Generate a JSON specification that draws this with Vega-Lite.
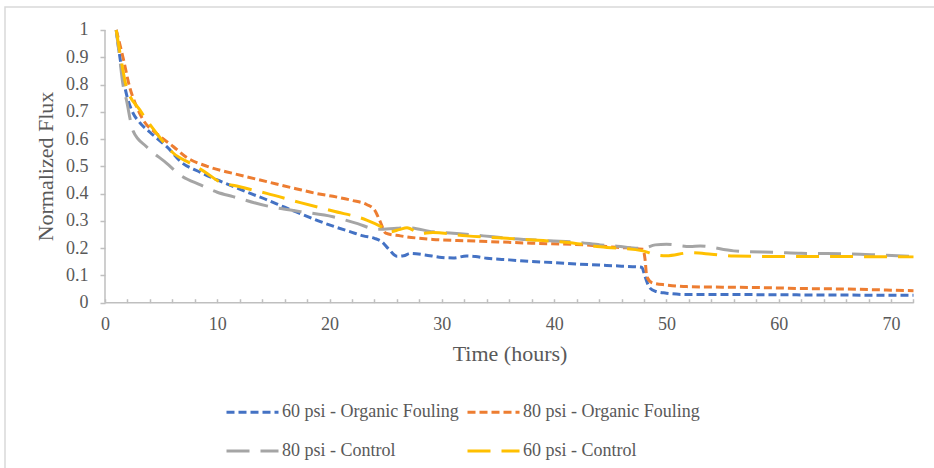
{
  "$schema": "https://vega.github.io/schema/vega-lite/v6.json",
  "autosize": {"type": "none"},
  "padding": {"left": 5, "top": 7, "right": 0, "bottom": 0},
  "width": 929,
  "height": 461,
  "background": "white",
  "config": {
    "view": {"stroke": "#d9d9d9", "strokeWidth": 1.5, "strokeDash": [929, 1390, 461]},
    "font": "Liberation Serif",
    "axis": {
      "grid": false,
      "domain": false,
      "labelOverlap": false,
      "labelFont": "Liberation Serif",
      "labelFontSize": 18,
      "labelColor": "#595959",
      "titleFont": "Liberation Serif",
      "titleFontSize": 22,
      "titleFontWeight": "normal",
      "titleColor": "#595959",
      "tickColor": "#bfbfbf",
      "tickWidth": 1.5
    },
    "legend": {
      "labelFont": "Liberation Serif",
      "labelFontSize": 18,
      "labelColor": "#595959",
      "labelLimit": 0
    }
  },
  "datasets": {
    "flux": [
      {"series": "60 psi - Organic Fouling", "t": 1, "flux": 1},
      {"series": "60 psi - Organic Fouling", "t": 1.4, "flux": 0.88},
      {"series": "60 psi - Organic Fouling", "t": 1.8, "flux": 0.785},
      {"series": "60 psi - Organic Fouling", "t": 2.5, "flux": 0.695},
      {"series": "60 psi - Organic Fouling", "t": 3, "flux": 0.665},
      {"series": "60 psi - Organic Fouling", "t": 4, "flux": 0.625},
      {"series": "60 psi - Organic Fouling", "t": 5, "flux": 0.59},
      {"series": "60 psi - Organic Fouling", "t": 5.5, "flux": 0.572},
      {"series": "60 psi - Organic Fouling", "t": 6.8, "flux": 0.515},
      {"series": "60 psi - Organic Fouling", "t": 8.5, "flux": 0.478},
      {"series": "60 psi - Organic Fouling", "t": 10, "flux": 0.45},
      {"series": "60 psi - Organic Fouling", "t": 11.5, "flux": 0.425},
      {"series": "60 psi - Organic Fouling", "t": 13, "flux": 0.4},
      {"series": "60 psi - Organic Fouling", "t": 14.5, "flux": 0.376},
      {"series": "60 psi - Organic Fouling", "t": 16, "flux": 0.35},
      {"series": "60 psi - Organic Fouling", "t": 17.5, "flux": 0.325},
      {"series": "60 psi - Organic Fouling", "t": 19, "flux": 0.3},
      {"series": "60 psi - Organic Fouling", "t": 20.5, "flux": 0.278},
      {"series": "60 psi - Organic Fouling", "t": 22, "flux": 0.258},
      {"series": "60 psi - Organic Fouling", "t": 23, "flux": 0.245},
      {"series": "60 psi - Organic Fouling", "t": 24, "flux": 0.236},
      {"series": "60 psi - Organic Fouling", "t": 24.6, "flux": 0.225},
      {"series": "60 psi - Organic Fouling", "t": 25.3, "flux": 0.195},
      {"series": "60 psi - Organic Fouling", "t": 26, "flux": 0.17},
      {"series": "60 psi - Organic Fouling", "t": 26.6, "flux": 0.172},
      {"series": "60 psi - Organic Fouling", "t": 27.2, "flux": 0.181},
      {"series": "60 psi - Organic Fouling", "t": 28.5, "flux": 0.175},
      {"series": "60 psi - Organic Fouling", "t": 30, "flux": 0.166},
      {"series": "60 psi - Organic Fouling", "t": 31, "flux": 0.164},
      {"series": "60 psi - Organic Fouling", "t": 32.2, "flux": 0.171},
      {"series": "60 psi - Organic Fouling", "t": 33, "flux": 0.169},
      {"series": "60 psi - Organic Fouling", "t": 34, "flux": 0.163},
      {"series": "60 psi - Organic Fouling", "t": 36, "flux": 0.157},
      {"series": "60 psi - Organic Fouling", "t": 38, "flux": 0.151},
      {"series": "60 psi - Organic Fouling", "t": 40, "flux": 0.147},
      {"series": "60 psi - Organic Fouling", "t": 42, "flux": 0.142},
      {"series": "60 psi - Organic Fouling", "t": 44, "flux": 0.138},
      {"series": "60 psi - Organic Fouling", "t": 46, "flux": 0.134},
      {"series": "60 psi - Organic Fouling", "t": 47.8, "flux": 0.13},
      {"series": "60 psi - Organic Fouling", "t": 48.1, "flux": 0.095},
      {"series": "60 psi - Organic Fouling", "t": 48.5, "flux": 0.055},
      {"series": "60 psi - Organic Fouling", "t": 49, "flux": 0.042},
      {"series": "60 psi - Organic Fouling", "t": 50, "flux": 0.035},
      {"series": "60 psi - Organic Fouling", "t": 51.8, "flux": 0.03},
      {"series": "60 psi - Organic Fouling", "t": 55, "flux": 0.03},
      {"series": "60 psi - Organic Fouling", "t": 60, "flux": 0.029},
      {"series": "60 psi - Organic Fouling", "t": 65, "flux": 0.028},
      {"series": "60 psi - Organic Fouling", "t": 72, "flux": 0.027},

      {"series": "80 psi - Organic Fouling", "t": 1, "flux": 1},
      {"series": "80 psi - Organic Fouling", "t": 1.6, "flux": 0.9},
      {"series": "80 psi - Organic Fouling", "t": 2.2, "flux": 0.79},
      {"series": "80 psi - Organic Fouling", "t": 2.8, "flux": 0.72},
      {"series": "80 psi - Organic Fouling", "t": 3.4, "flux": 0.67},
      {"series": "80 psi - Organic Fouling", "t": 4.6, "flux": 0.62},
      {"series": "80 psi - Organic Fouling", "t": 6.1, "flux": 0.572},
      {"series": "80 psi - Organic Fouling", "t": 7.3, "flux": 0.532},
      {"series": "80 psi - Organic Fouling", "t": 9.1, "flux": 0.5},
      {"series": "80 psi - Organic Fouling", "t": 11.4, "flux": 0.474},
      {"series": "80 psi - Organic Fouling", "t": 14.4, "flux": 0.444},
      {"series": "80 psi - Organic Fouling", "t": 17, "flux": 0.418},
      {"series": "80 psi - Organic Fouling", "t": 18.9, "flux": 0.4},
      {"series": "80 psi - Organic Fouling", "t": 20.3, "flux": 0.39},
      {"series": "80 psi - Organic Fouling", "t": 22, "flux": 0.375},
      {"series": "80 psi - Organic Fouling", "t": 23.3, "flux": 0.36},
      {"series": "80 psi - Organic Fouling", "t": 24, "flux": 0.34},
      {"series": "80 psi - Organic Fouling", "t": 24.5, "flux": 0.298},
      {"series": "80 psi - Organic Fouling", "t": 25, "flux": 0.255},
      {"series": "80 psi - Organic Fouling", "t": 26.3, "flux": 0.245},
      {"series": "80 psi - Organic Fouling", "t": 29.2, "flux": 0.232},
      {"series": "80 psi - Organic Fouling", "t": 32.2, "flux": 0.227},
      {"series": "80 psi - Organic Fouling", "t": 35, "flux": 0.223},
      {"series": "80 psi - Organic Fouling", "t": 38, "flux": 0.218},
      {"series": "80 psi - Organic Fouling", "t": 42.6, "flux": 0.212},
      {"series": "80 psi - Organic Fouling", "t": 45.6, "flux": 0.203},
      {"series": "80 psi - Organic Fouling", "t": 47.9, "flux": 0.196},
      {"series": "80 psi - Organic Fouling", "t": 48.1, "flux": 0.157},
      {"series": "80 psi - Organic Fouling", "t": 48.25, "flux": 0.095},
      {"series": "80 psi - Organic Fouling", "t": 48.8, "flux": 0.072},
      {"series": "80 psi - Organic Fouling", "t": 50, "flux": 0.065},
      {"series": "80 psi - Organic Fouling", "t": 51.8, "flux": 0.059},
      {"series": "80 psi - Organic Fouling", "t": 55, "flux": 0.057},
      {"series": "80 psi - Organic Fouling", "t": 58.9, "flux": 0.055},
      {"series": "80 psi - Organic Fouling", "t": 62, "flux": 0.052},
      {"series": "80 psi - Organic Fouling", "t": 66, "flux": 0.05},
      {"series": "80 psi - Organic Fouling", "t": 70, "flux": 0.046},
      {"series": "80 psi - Organic Fouling", "t": 72, "flux": 0.044},

      {"series": "80 psi - Control", "t": 1, "flux": 1},
      {"series": "80 psi - Control", "t": 1.3, "flux": 0.9},
      {"series": "80 psi - Control", "t": 1.6, "flux": 0.8},
      {"series": "80 psi - Control", "t": 1.9, "flux": 0.745},
      {"series": "80 psi - Control", "t": 2.5, "flux": 0.63},
      {"series": "80 psi - Control", "t": 3.7, "flux": 0.572},
      {"series": "80 psi - Control", "t": 5.5, "flux": 0.511},
      {"series": "80 psi - Control", "t": 6.7, "flux": 0.468},
      {"series": "80 psi - Control", "t": 8.5, "flux": 0.432},
      {"series": "80 psi - Control", "t": 10, "flux": 0.405},
      {"series": "80 psi - Control", "t": 11.4, "flux": 0.389},
      {"series": "80 psi - Control", "t": 14.4, "flux": 0.355},
      {"series": "80 psi - Control", "t": 17.4, "flux": 0.334},
      {"series": "80 psi - Control", "t": 20.3, "flux": 0.315},
      {"series": "80 psi - Control", "t": 22.5, "flux": 0.29},
      {"series": "80 psi - Control", "t": 24.2, "flux": 0.269},
      {"series": "80 psi - Control", "t": 26, "flux": 0.273},
      {"series": "80 psi - Control", "t": 27, "flux": 0.275},
      {"series": "80 psi - Control", "t": 29.2, "flux": 0.26},
      {"series": "80 psi - Control", "t": 31, "flux": 0.255},
      {"series": "80 psi - Control", "t": 33.7, "flux": 0.245},
      {"series": "80 psi - Control", "t": 36, "flux": 0.236},
      {"series": "80 psi - Control", "t": 39.6, "flux": 0.227},
      {"series": "80 psi - Control", "t": 42, "flux": 0.222},
      {"series": "80 psi - Control", "t": 44.1, "flux": 0.212},
      {"series": "80 psi - Control", "t": 45.6, "flux": 0.207},
      {"series": "80 psi - Control", "t": 47.9, "flux": 0.199},
      {"series": "80 psi - Control", "t": 49, "flux": 0.212},
      {"series": "80 psi - Control", "t": 50, "flux": 0.214},
      {"series": "80 psi - Control", "t": 52.1, "flux": 0.206},
      {"series": "80 psi - Control", "t": 53, "flux": 0.208},
      {"series": "80 psi - Control", "t": 56, "flux": 0.19},
      {"series": "80 psi - Control", "t": 60, "flux": 0.184},
      {"series": "80 psi - Control", "t": 62, "flux": 0.181},
      {"series": "80 psi - Control", "t": 66.3, "flux": 0.179},
      {"series": "80 psi - Control", "t": 69, "flux": 0.175},
      {"series": "80 psi - Control", "t": 72, "flux": 0.17},

      {"series": "60 psi - Control", "t": 1, "flux": 1},
      {"series": "60 psi - Control", "t": 1.4, "flux": 0.9},
      {"series": "60 psi - Control", "t": 1.9, "flux": 0.792},
      {"series": "60 psi - Control", "t": 3.1, "flux": 0.707},
      {"series": "60 psi - Control", "t": 4.6, "flux": 0.621},
      {"series": "60 psi - Control", "t": 6.1, "flux": 0.548},
      {"series": "60 psi - Control", "t": 7.6, "flux": 0.511},
      {"series": "60 psi - Control", "t": 9.1, "flux": 0.474},
      {"series": "60 psi - Control", "t": 10, "flux": 0.448},
      {"series": "60 psi - Control", "t": 12, "flux": 0.425},
      {"series": "60 psi - Control", "t": 14.4, "flux": 0.401},
      {"series": "60 psi - Control", "t": 17.4, "flux": 0.367},
      {"series": "60 psi - Control", "t": 20.3, "flux": 0.336},
      {"series": "60 psi - Control", "t": 23.3, "flux": 0.303},
      {"series": "60 psi - Control", "t": 24.5, "flux": 0.281},
      {"series": "60 psi - Control", "t": 25.4, "flux": 0.26},
      {"series": "60 psi - Control", "t": 26.2, "flux": 0.268},
      {"series": "60 psi - Control", "t": 26.9, "flux": 0.275},
      {"series": "60 psi - Control", "t": 28.1, "flux": 0.254},
      {"series": "60 psi - Control", "t": 29.2, "flux": 0.257},
      {"series": "60 psi - Control", "t": 32.2, "flux": 0.245},
      {"series": "60 psi - Control", "t": 35, "flux": 0.238},
      {"series": "60 psi - Control", "t": 38.1, "flux": 0.23},
      {"series": "60 psi - Control", "t": 41, "flux": 0.222},
      {"series": "60 psi - Control", "t": 44.1, "flux": 0.205},
      {"series": "60 psi - Control", "t": 47.9, "flux": 0.19},
      {"series": "60 psi - Control", "t": 49.1, "flux": 0.175},
      {"series": "60 psi - Control", "t": 50, "flux": 0.172},
      {"series": "60 psi - Control", "t": 52.1, "flux": 0.183},
      {"series": "60 psi - Control", "t": 54, "flux": 0.178},
      {"series": "60 psi - Control", "t": 56, "flux": 0.171},
      {"series": "60 psi - Control", "t": 61.9, "flux": 0.169},
      {"series": "60 psi - Control", "t": 66, "flux": 0.169},
      {"series": "60 psi - Control", "t": 72, "flux": 0.168}
    ]
  },
  "layer": [
    {
      "data": {"name": "flux"},
      "mark": {"type": "line", "strokeWidth": 3, "interpolate": "monotone"},
      "encoding": {
        "x": {
          "field": "t",
          "type": "quantitative",
          "title": "Time (hours)",
          "scale": {"domain": [-8.905, 73.826], "nice": false, "zero": false},
          "axis": {
            "orient": "bottom",
            "offset": -165.3,
            "values": [0, 2, 4, 6, 8, 10, 12, 14, 16, 18, 20, 22, 24, 26, 28, 30, 32, 34, 36, 38, 40, 42, 44, 46, 48, 50, 52, 54, 56, 58, 60, 62, 64, 66, 68, 70, 72],
            "labelExpr": "datum.value % 10 === 0 ? datum.label : ''",
            "labelOverlap": false,
            "tickSize": -4,
            "labelPadding": 17,
            "titleX": 504.5,
            "titlePadding": 10
          }
        },
        "y": {
          "field": "flux",
          "type": "quantitative",
          "title": "Normalized Flux",
          "scale": {"domain": [-0.6062, 1.0843], "nice": false, "zero": false},
          "axis": {
            "orient": "left",
            "offset": -100,
            "values": [0, 0.1, 0.2, 0.3, 0.4, 0.5, 0.6, 0.7, 0.8, 0.9, 1],
            "format": "~g",
            "labelOverlap": false,
            "tickSize": 5,
            "labelPadding": 12,
            "titleY": 159,
            "titlePadding": 8
          }
        },
        "color": {
          "field": "series",
          "type": "nominal",
          "scale": {
            "domain": ["60 psi - Organic Fouling", "80 psi - Organic Fouling", "80 psi - Control", "60 psi - Control"],
            "range": ["#4472C4", "#ED7D31", "#A5A5A5", "#FFC000"]
          },
          "legend": {
            "title": null,
            "orient": "none",
            "direction": "horizontal",
            "legendX": 220,
            "legendY": 377.5,
            "columns": 2,
            "columnPadding": 2,
            "padding": 0,
            "symbolType": "stroke",
            "symbolSize": 2704,
            "symbolStrokeWidth": 3,
            "labelOffset": 2,
            "labelLimit": 0,
            "labelFont": "Liberation Serif",
            "labelFontSize": 18,
            "labelColor": "#595959"
          }
        },
        "strokeDash": {
          "field": "series",
          "type": "nominal",
          "scale": {
            "domain": ["60 psi - Organic Fouling", "80 psi - Organic Fouling", "80 psi - Control", "60 psi - Control"],
            "range": [[8, 4], [8, 4], [23, 11], [23, 11]]
          },
          "legend": {
            "title": null,
            "orient": "none",
            "direction": "horizontal",
            "legendX": 220,
            "legendY": 377.5,
            "columns": 2,
            "columnPadding": 2,
            "padding": 0,
            "symbolType": "stroke",
            "symbolSize": 2704,
            "symbolStrokeWidth": 3,
            "labelOffset": 2,
            "labelLimit": 0,
            "labelFont": "Liberation Serif",
            "labelFontSize": 18,
            "labelColor": "#595959"
          }
        }
      }
    },
    {
      "data": {"values": [{}]},
      "mark": {"type": "rule", "color": "#bfbfbf", "strokeWidth": 1.5},
      "encoding": {
        "x": {
          "datum": 0,
          "type": "quantitative",
          "axis": {
            "orient": "bottom",
            "offset": -165.3,
            "values": [0, 2, 4, 6, 8, 10, 12, 14, 16, 18, 20, 22, 24, 26, 28, 30, 32, 34, 36, 38, 40, 42, 44, 46, 48, 50, 52, 54, 56, 58, 60, 62, 64, 66, 68, 70, 72],
            "labelExpr": "datum.value % 10 === 0 ? datum.label : ''",
            "labelOverlap": false,
            "tickSize": -4,
            "labelPadding": 17,
            "titleX": 504.5,
            "titlePadding": 10
          }
        },
        "y": {
          "datum": 0,
          "type": "quantitative",
          "axis": {
            "orient": "left",
            "offset": -100,
            "values": [0, 0.1, 0.2, 0.3, 0.4, 0.5, 0.6, 0.7, 0.8, 0.9, 1],
            "format": "~g",
            "labelOverlap": false,
            "tickSize": 5,
            "labelPadding": 12,
            "titleY": 159,
            "titlePadding": 8
          }
        },
        "y2": {"datum": 1}
      }
    },
    {
      "data": {"values": [{}]},
      "mark": {"type": "rule", "color": "#bfbfbf", "strokeWidth": 1.5},
      "encoding": {
        "x": {
          "datum": 0,
          "type": "quantitative",
          "axis": {
            "orient": "bottom",
            "offset": -165.3,
            "values": [0, 2, 4, 6, 8, 10, 12, 14, 16, 18, 20, 22, 24, 26, 28, 30, 32, 34, 36, 38, 40, 42, 44, 46, 48, 50, 52, 54, 56, 58, 60, 62, 64, 66, 68, 70, 72],
            "labelExpr": "datum.value % 10 === 0 ? datum.label : ''",
            "labelOverlap": false,
            "tickSize": -4,
            "labelPadding": 17,
            "titleX": 504.5,
            "titlePadding": 10
          }
        },
        "x2": {"datum": 72},
        "y": {
          "datum": 0,
          "type": "quantitative",
          "axis": {
            "orient": "left",
            "offset": -100,
            "values": [0, 0.1, 0.2, 0.3, 0.4, 0.5, 0.6, 0.7, 0.8, 0.9, 1],
            "format": "~g",
            "labelOverlap": false,
            "tickSize": 5,
            "labelPadding": 12,
            "titleY": 159,
            "titlePadding": 8
          }
        }
      }
    }
  ]
}
